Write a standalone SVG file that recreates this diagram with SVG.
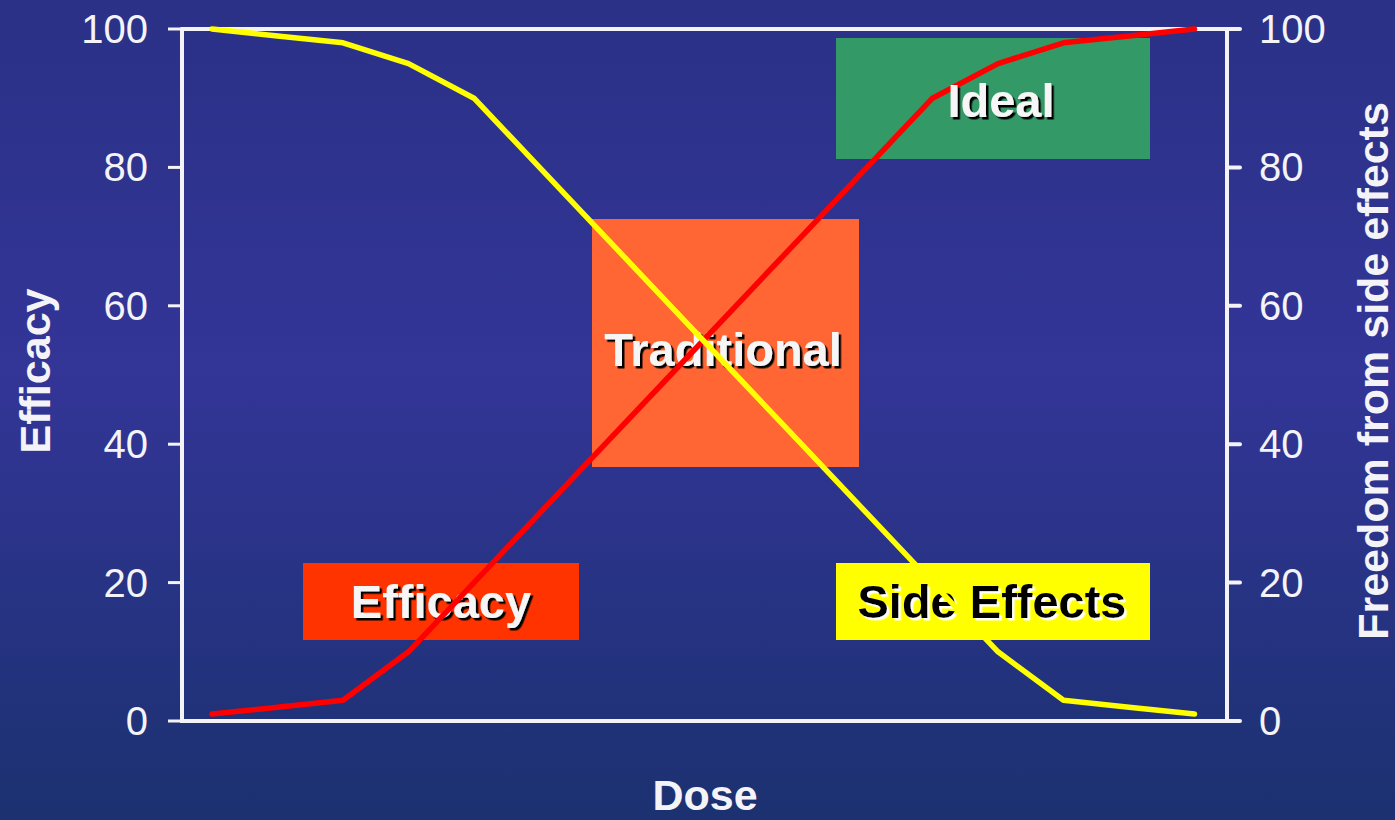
<svg xmlns="http://www.w3.org/2000/svg" width="1395" height="820" viewBox="0 0 1395 820">
  <defs>
    <linearGradient id="bg" x1="0" y1="0" x2="0" y2="1">
      <stop offset="0" stop-color="#2a3186"/>
      <stop offset="0.45" stop-color="#333597"/>
      <stop offset="1" stop-color="#1b3170"/>
    </linearGradient>
    <filter id="shB" x="-10%" y="-20%" width="120%" height="140%">
      <feDropShadow dx="2.5" dy="2.5" stdDeviation="0" flood-color="#000000"/>
    </filter>
    <filter id="shW" x="-10%" y="-20%" width="120%" height="140%">
      <feDropShadow dx="2.5" dy="2.5" stdDeviation="0" flood-color="#ffffff"/>
    </filter>
  </defs>
  <style>
    .axis { stroke: #f4f4f8; stroke-width: 4; fill: none; stroke-linecap: round; }
    .tick { stroke: #f4f4f8; stroke-width: 3; }
    .num { font-family: "Liberation Sans", Arial, sans-serif; font-size: 40px; fill: #f4f4f8; }
    .title { font-family: "Liberation Sans", Arial, sans-serif; font-size: 43px; font-weight: bold; fill: #f4f4f8; }
    .lbl { font-family: "Liberation Sans", Arial, sans-serif; font-size: 47px; font-weight: bold; text-anchor: middle; }
    .series { fill: none; stroke-width: 5.5; stroke-linejoin: round; stroke-linecap: round; }
  </style>

  <rect x="0" y="0" width="1395" height="820" fill="url(#bg)"/>

  <g id="axes">
    <polyline class="axis" points="182,29 182,721 1240,721"/>
    <polyline class="axis" points="182,29 1240,29"/>
    <line class="axis" x1="1227" y1="29" x2="1227" y2="721"/>
    <g class="tick">
      <line x1="168" y1="29" x2="182" y2="29"/>
      <line x1="168" y1="167.4" x2="182" y2="167.4"/>
      <line x1="168" y1="305.8" x2="182" y2="305.8"/>
      <line x1="168" y1="444.2" x2="182" y2="444.2"/>
      <line x1="168" y1="582.6" x2="182" y2="582.6"/>
      <line x1="168" y1="721" x2="182" y2="721"/>
      <line x1="1227" y1="167.4" x2="1240" y2="167.4" stroke-width="4" stroke-linecap="round"/>
      <line x1="1227" y1="305.8" x2="1240" y2="305.8" stroke-width="4" stroke-linecap="round"/>
      <line x1="1227" y1="444.2" x2="1240" y2="444.2" stroke-width="4" stroke-linecap="round"/>
      <line x1="1227" y1="582.6" x2="1240" y2="582.6" stroke-width="4" stroke-linecap="round"/>
    </g>
    <g class="num" text-anchor="end">
      <text x="148" y="43">100</text>
      <text x="148" y="181">80</text>
      <text x="148" y="320">60</text>
      <text x="148" y="458">40</text>
      <text x="148" y="597">20</text>
      <text x="148" y="735">0</text>
    </g>
    <g class="num" text-anchor="start">
      <text x="1259" y="43">100</text>
      <text x="1259" y="181">80</text>
      <text x="1259" y="320">60</text>
      <text x="1259" y="458">40</text>
      <text x="1259" y="597">20</text>
      <text x="1259" y="735">0</text>
    </g>
    <text class="title" text-anchor="middle" transform="translate(50,371) rotate(-90)">Efficacy</text>
    <text class="title" text-anchor="middle" transform="translate(1388,371) rotate(-90)">Freedom from side effects</text>
    <text class="title" text-anchor="middle" x="705" y="810">Dose</text>
  </g>

  <g id="node-efficacy">
    <rect x="303" y="563" width="276" height="77" fill="#ff3300"/>
    <text class="lbl" x="441" y="618" fill="#f6f6f6" filter="url(#shB)">Efficacy</text>
  </g>
  <g id="node-traditional">
    <rect x="592" y="219" width="267" height="248" fill="#ff6633"/>
    <text class="lbl" x="723" y="366" fill="#f6f6f6" filter="url(#shB)">Traditional</text>
  </g>
  <g id="node-side-effects">
    <rect x="836" y="563" width="314" height="77" fill="#ffff00"/>
    <text class="lbl" x="992" y="618" fill="#000000" filter="url(#shW)">Side Effects</text>
  </g>
  <g id="node-ideal">
    <rect x="836" y="38" width="314" height="121" fill="#339966"/>
  </g>

  <g id="connectors">
    <polyline class="series" stroke="#ff0000" points="212,714.1 277.5,707.2 343,700.2 408.5,651.8 474,582.6 539.5,513.4 605,444.2 670.5,375 736,305.8 801.5,236.6 867,167.4 932.5,98.2 998,63.6 1063.5,42.8 1129,35.9 1194.5,29"/>
    <polyline class="series" stroke="#ffff00" points="212,29 277.5,35.9 343,42.8 408.5,63.6 474,98.2 539.5,167.4 605,236.6 670.5,305.8 736,375 801.5,444.2 867,513.4 932.5,582.6 998,651.8 1063.5,700.2 1129,707.2 1194.5,714.1"/>
  </g>

  <g id="node-ideal-label">
    <text class="lbl" x="1001" y="117" fill="#f6f6f6" filter="url(#shB)">Ideal</text>
  </g>
</svg>
